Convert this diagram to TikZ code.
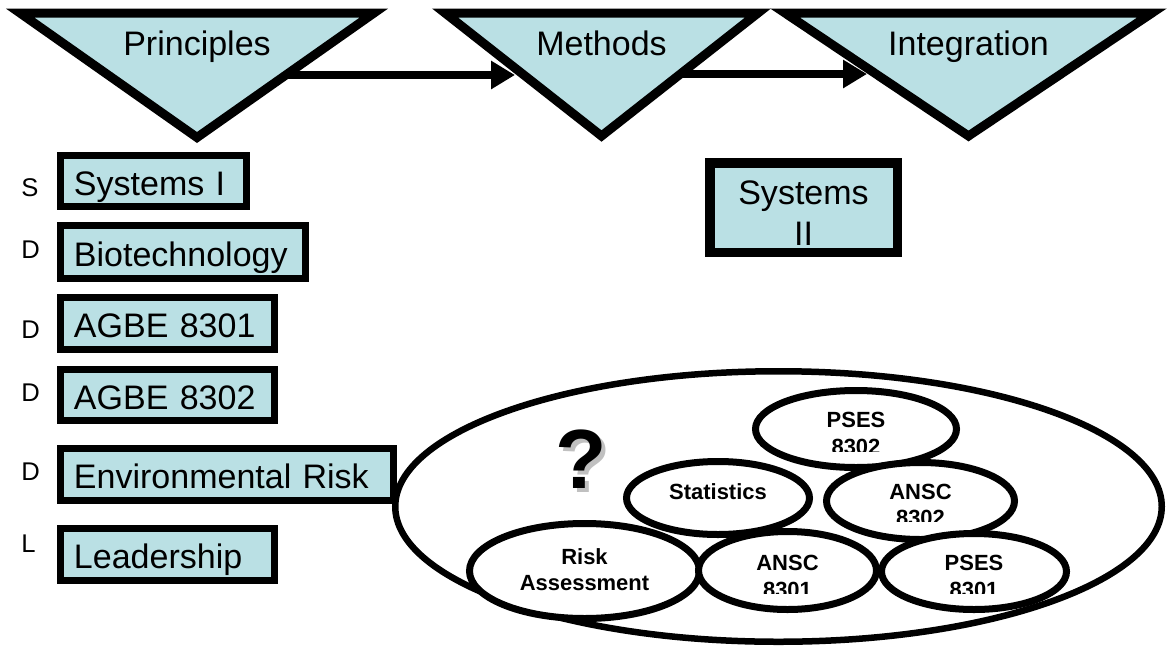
\documentclass[tikz,border=0pt]{standalone}
\usepackage{fontspec}
\setmainfont{Liberation Sans}
\usetikzlibrary{arrows.meta,shapes.geometric}
\definecolor{boxfill}{RGB}{186,224,228}
\definecolor{shadowgray}{RGB}{192,192,192}
\tikzset{
  tri/.style={draw,line width=1.8mm,fill=boxfill,line join=miter},
  flow/.style={line width=1.7mm,-{Triangle[length=4.8mm,width=5.4mm]}},
  title/.style={anchor=base,inner sep=0pt,
    font=\fontsize{19.35pt}{23.2pt}\selectfont},
  course/.style={draw,line width=1.4mm,fill=boxfill,inner xsep=2.7mm,
    inner ysep=0pt,align=left,text height=6.2mm,text depth=0.6mm,
    font=\fontsize{19.35pt}{23.2pt}\selectfont},
  tag/.style={anchor=base west,inner sep=0pt,
    font=\fontsize{14.57pt}{17pt}\selectfont},
  blob/.style={draw,ellipse,line width=1.4mm,fill=white,inner sep=0pt,
    align=center,text depth=0pt,
    font=\bfseries\fontsize{12.5pt}{15.1pt}\selectfont},
  qm/.style={anchor=base,inner sep=0pt,
    font=\bfseries\fontsize{47.8pt}{50pt}\selectfont}
}

\begin{document}
\begin{tikzpicture}[x=0.2mm,y=-0.2mm]
\useasboundingbox (0,0) rectangle (1170,647);

\draw[tri] (20,13) -- (374,13) -- (197,137.5) -- cycle;
\draw[tri] (445,13) -- (758,13) -- (601.5,136) -- cycle;
\draw[tri] (785,13) -- (1152,13) -- (968.5,136) -- cycle;
\node[title] (principles) at (197,55) {Principles};
\node[title] (methods) at (601.5,55) {Methods};
\node[title] (integration) at (968.5,55) {Integration};

\coordinate (outP) at (286,75);
\coordinate (inM) at (515,75);
\coordinate (outM) at (680.4,74);
\coordinate (inI) at (867,74);
\draw[flow] (outP) -- (inM);
\draw[flow] (outM) -- (inI);

\node[course,align=center,line width=1.9mm,minimum width=37.5mm,
  minimum height=17.9mm,text height=15mm,text depth=0pt]
  (systemsII) at (803.5,207.5) {Systems\\II};

\node[draw,ellipse,line width=1.3mm,minimum width=153.3mm,
  minimum height=54.1mm,inner sep=0pt] (field) at (778.5,506.5) {};

\node[qm,text=shadowgray] (qshadow) at (585.5,492) {?};
\node[qm] (qmark) at (581.5,488) {?};

\begin{scope}[even odd rule]
\clip (0,0) rectangle (1170,647)
  (818,451.7) rectangle (894,458)
  (882,521.7) rectangle (958,528)
  (750,593.3) rectangle (825,600)
  (936,593.3) rectangle (1012,600);
\node[blob,minimum width=40.2mm,minimum height=15.4mm,text height=10mm]
  (psesII) at (856,429) {PSES\\8302};
\node[blob,minimum width=36.6mm,minimum height=14.6mm,text height=3.2mm,
  text depth=2.8mm] (statistics) at (718,498) {Statistics};
\node[blob,minimum width=37.6mm,minimum height=15.4mm,text height=9.92mm]
  (anscII) at (920.5,501) {ANSC\\8302};
\node[blob,minimum width=46mm,minimum height=19mm,text height=7.88mm]
  (risk) at (584.5,571) {Risk\\Assessment};
\node[blob,minimum width=35.6mm,minimum height=15.6mm,text height=10.6mm]
  (anscI) at (787.5,570.5) {ANSC\\8301};
\node[blob,minimum width=37mm,minimum height=15.2mm,text height=10.2mm]
  (psesI) at (974,571.5) {PSES\\8301};
\end{scope}

\node[course,text width=31.8mm,minimum height=10.2mm]
  (systemsI) at (153.5,181) {Systems I};
\node[course,text width=43.6mm,minimum height=10.6mm]
  (biotech) at (183,252) {Biotechnology};
\node[course,text width=37.4mm,minimum height=10.4mm]
  (agbeI) at (167.5,323.5) {AGBE 8301};
\node[course,text width=37.4mm,minimum height=10.2mm]
  (agbeII) at (167.5,395) {AGBE 8302};
\node[course,text width=61.2mm,minimum height=10.4mm]
  (envrisk) at (227,474.5) {Environmental Risk};
\node[course,text width=37.4mm,minimum height=10.4mm]
  (leadership) at (167.5,554.5) {Leadership};

\node[tag] (tagS) at (21,196) {S};
\node[tag] (tagDa) at (21,258) {D};
\node[tag] (tagDb) at (21,338) {D};
\node[tag] (tagDc) at (21,401) {D};
\node[tag] (tagDd) at (21,480) {D};
\node[tag] (tagL) at (21,552) {L};
\end{tikzpicture}
\end{document}
